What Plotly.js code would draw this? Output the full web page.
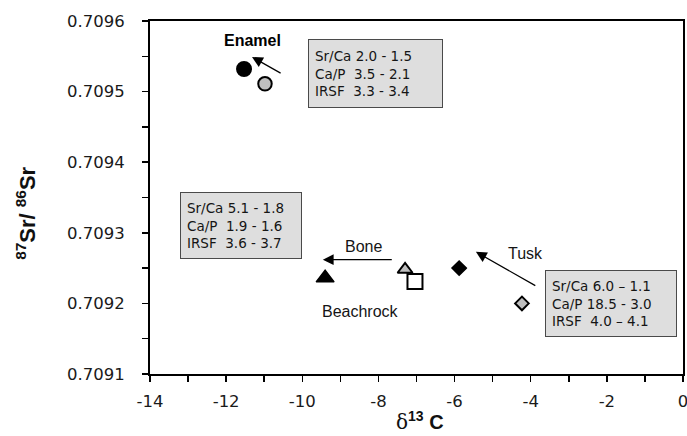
<!DOCTYPE html>
<html>
<head>
<meta charset="utf-8">
<script src="https://cdn.plot.ly/plotly-3.0.1.min.js"></script>
<style>
  html, body { margin: 0; padding: 0; background: #ffffff; }
  #chart { width: 687px; height: 436px; }
</style>
</head>
<body>
<div id="chart"></div>
<script>
// ---- data ----
const enamelX = [-11.53, -10.98];
const enamelY = [0.709532, 0.709511];
const boneX = [-9.40, -7.30];
const boneY = [0.709236, 0.709248];
const beachrockX = [-7.04];
const beachrockY = [0.709231];
const tuskX = [-5.88, -4.23];
const tuskY = [0.709250, 0.709200];

const xTickVals = [-14, -12, -10, -8, -6, -4, -2, 0];
const yTickVals = [0.7091, 0.7092, 0.7093, 0.7094, 0.7095, 0.7096];

const enamelBox = ['Sr/Ca 2.0 - 1.5', 'Ca/P\u00a0\u00a03.5 - 2.1', 'IRSF\u00a0\u00a03.3 - 3.4'];
const boneBox = ['Sr/Ca 5.1 - 1.8', 'Ca/P\u00a0\u00a01.9 - 1.6', 'IRSF\u00a0\u00a03.6 - 3.7'];
const tuskBox = ['Sr/Ca 6.0 \u2013 1.1', 'Ca/P 18.5 - 3.0', 'IRSF\u00a0\u00a04.0 \u2013 4.1'];

const BLACK = '#000000';
const GRAY = '#bfbfbf';
const TXT = '#151515';
const sans = 'DejaVu Sans, Verdana, sans-serif';
const arial = 'Liberation Sans, Arial, sans-serif';

const traces = [
  { x: enamelX, y: enamelY, mode: 'markers', type: 'scatter', name: 'Enamel',
    marker: { symbol: 'circle', opacity: 1, size: [14, 13.5], color: [BLACK, GRAY], line: { color: BLACK, width: 2 } } },
  { x: boneX, y: boneY, mode: 'markers', type: 'scatter', name: 'Bone',
    marker: { symbol: 'triangle-up', opacity: 1, size: [15.5, 13], color: [BLACK, GRAY], line: { color: BLACK, width: [1.5, 2] } } },
  { x: beachrockX, y: beachrockY, mode: 'markers', type: 'scatter', name: 'Beachrock',
    marker: { symbol: 'square', opacity: 1, size: 15, color: '#ffffff', line: { color: BLACK, width: 2 } } },
  { x: tuskX, y: tuskY, mode: 'markers', type: 'scatter', name: 'Tusk',
    marker: { symbol: 'diamond', opacity: 1, size: [11, 10.5], color: [BLACK, GRAY], line: { color: BLACK, width: [1.5, 2] } } }
];

function box(lines, x, y, w, h) {
  return {
    x: x, y: y, xref: 'x', yref: 'y', xanchor: 'left', yanchor: 'top',
    text: lines.join('<br>'), showarrow: false, align: 'left', valign: 'middle',
    width: w, height: h, bgcolor: '#dedede', bordercolor: '#4a4a4a', borderwidth: 1, borderpad: 6,
    font: { family: sans, size: 13.5, color: TXT }
  };
}
function label(text, x, y, font) {
  return { x: x, y: y, xref: 'x', yref: 'y', text: text, showarrow: false,
    xanchor: 'center', yanchor: 'middle', font: font };
}
function arrow(x, y, ax, ay) {
  return { x: x, y: y, ax: ax, ay: ay, xref: 'x', yref: 'y', axref: 'x', ayref: 'y',
    text: '', showarrow: true, arrowhead: 2, arrowsize: 1.8, arrowwidth: 1.2, arrowcolor: BLACK, standoff: 0, startstandoff: 0 };
}

const annotations = [
  box(enamelBox, -9.85, 0.7095745, 121, 55),
  box(boneBox, -13.21, 0.7093578, 108, 53),
  box(tuskBox, -3.625, 0.7092473, 118, 53),
  label('<b>Enamel</b>', -11.31, 0.709573, { family: arial, size: 16, color: BLACK }),
  label('Bone', -8.38, 0.709280, { family: arial, size: 16, color: TXT }),
  label('Beachrock', -8.46, 0.709189, { family: arial, size: 16, color: TXT }),
  label('Tusk', -4.15, 0.709271, { family: arial, size: 16, color: TXT }),
  arrow(-11.32, 0.709549, -10.53, 0.709525),
  arrow(-9.46, 0.709262, -7.61, 0.709262),
  arrow(-5.44, 0.709273, -3.84, 0.709224),
  { xref: 'paper', yref: 'paper', x: -0.2330, y: 0.4560, xanchor: 'center', yanchor: 'middle',
    textangle: -90, showarrow: false,
    text: '<b><sup>87</sup>Sr/ <sup>86</sup>Sr</b>',
    font: { family: arial, size: 22, color: '#111111' } },
  { xref: 'paper', yref: 'paper', x: 0.5066, y: -0.1320, xanchor: 'center', yanchor: 'middle',
    showarrow: false,
    text: '<span style="font-family:DejaVu Serif">\u03b4</span><b><sup>13</sup> C</b>',
    font: { family: arial, size: 20, color: '#111111' } }
];

const axisCommon = {
  showgrid: false, zeroline: false, showline: true, linecolor: BLACK, linewidth: 2, mirror: true,
  ticks: 'outside', ticklen: 6, tickwidth: 1.5, tickcolor: BLACK,
  ticklabeloverflow: 'allow',
  tickfont: { family: sans, size: 16.5, color: '#1a1a1a' }
};

const layout = {
  width: 687, height: 436,
  margin: { l: 150, r: 4, t: 21, b: 62, pad: 0 },
  paper_bgcolor: '#ffffff', plot_bgcolor: '#ffffff',
  showlegend: false, hovermode: false,
  xaxis: Object.assign({}, axisCommon, {
    range: [-14, 0], tickmode: 'array', tickvals: xTickVals, ticktext: xTickVals.map(String),
    ticklabelstandoff: 5,
    minor: { dtick: 1, tick0: -14, ticks: 'outside', ticklen: 6, tickwidth: 1.5, tickcolor: BLACK, showgrid: false }
  }),
  yaxis: Object.assign({}, axisCommon, {
    range: [0.7091, 0.7096], tickmode: 'array', tickvals: yTickVals, ticktext: yTickVals.map(v => v.toFixed(4)),
    ticklabelstandoff: 14,
    minor: { dtick: 0.00005, tick0: 0.7091, ticks: 'outside', ticklen: 6, tickwidth: 1.5, tickcolor: BLACK, showgrid: false }
  }),
  annotations: annotations
};

Plotly.newPlot('chart', traces, layout, { staticPlot: true, displayModeBar: false });
</script>
</body>
</html>
